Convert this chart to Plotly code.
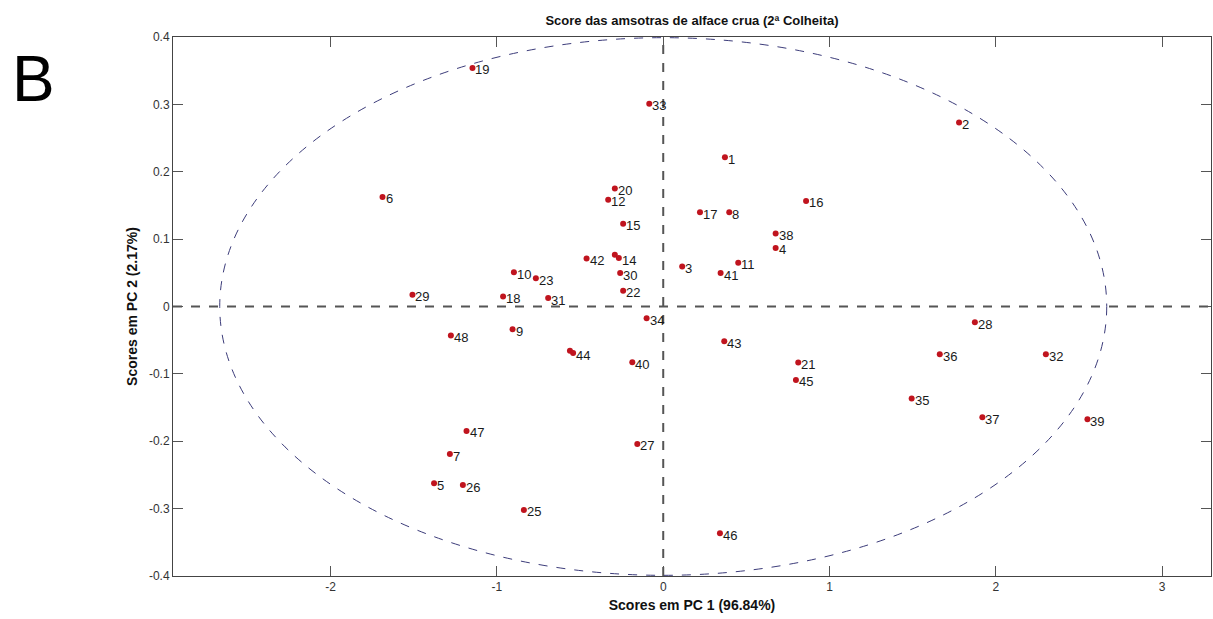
import plotly.graph_objects as go

# Sample labels and PCA scores
labels = ["1", "2", "3", "4", "5", "6", "7", "8", "9", "10",
          "11", "12", "", "14", "15", "16", "17", "18", "19", "20",
          "21", "22", "23", "", "25", "26", "27", "28", "29", "30",
          "31", "32", "33", "34", "35", "36", "37", "38", "39", "40",
          "41", "42", "43", "44", "45", "46", "47", "48"]
pc1 = [0.371, 1.779, 0.114, 0.676, -1.378, -1.688, -1.283, 0.397, -0.906, -0.898,
       0.451, -0.331, -0.291, -0.267, -0.241, 0.859, 0.221, -0.963, -1.147, -0.291,
       0.812, -0.241, -0.766, -0.561, -0.838, -1.205, -0.156, 1.874, -1.508, -0.259,
       -0.692, 2.301, -0.084, -0.100, 1.494, 1.663, 1.919, 0.676, 2.551, -0.186,
       0.345, -0.461, 0.367, -0.542, 0.798, 0.341, -1.183, -1.277]
pc2 = [0.2215, 0.273, 0.0594, 0.087, -0.2625, 0.1626, -0.219, 0.140, -0.0337, 0.051,
       0.065, 0.1585, 0.0768, 0.0719, 0.123, 0.1566, 0.140, 0.0149, 0.354, 0.175,
       -0.0832, 0.0233, 0.042, -0.0658, -0.302, -0.265, -0.204, -0.0232, 0.0174, 0.0496,
       0.0125, -0.0708, 0.301, -0.0173, -0.1367, -0.0708, -0.1644, 0.1085, -0.1674, -0.0827,
       0.0496, 0.0713, -0.0515, -0.0692, -0.109, -0.3367, -0.1847, -0.0431]

# Confidence ellipse semi-axes (Hotelling T2)
ell_a = 2.667
ell_b = 0.399

x_ticks = [-2, -1, 0, 1, 2, 3]
y_ticks = [-0.4, -0.3, -0.2, -0.1, 0, 0.1, 0.2, 0.3, 0.4]
y_ticktext = ["-0.4", "-0.3", "-0.2", "-0.1", "0", "0.1", "0.2", "0.3", "0.4"]

FONT = "Liberation Sans, Arial, sans-serif"

fig = go.Figure()
fig.add_trace(go.Scatter(
    x=pc1, y=pc2, mode="markers",
    marker=dict(color="#c0141e", size=6),
    cliponaxis=False, hoverinfo="skip", showlegend=False,
))

annotations = []
for xv, yv, lab in zip(pc1, pc2, labels):
    if lab:
        annotations.append(dict(
            x=xv, y=yv, xref="x", yref="y", text=lab, showarrow=False,
            xanchor="left", yanchor="middle", xshift=1, yshift=-2,
            font=dict(family=FONT, size=13, color="#1a1a1a")))

annotations.append(dict(text="B", xref="paper", yref="paper", x=-163 / 1038,
                        y=1 + (37 - 79) / 539, xanchor="left", yanchor="middle",
                        showarrow=False, font=dict(family=FONT, size=64, color="#000000")))

fig.add_shape(type="circle", xref="x", yref="y",
              x0=-ell_a, x1=ell_a, y0=-ell_b, y1=ell_b,
              line=dict(color="#3c3c7a", width=1, dash="dash"), layer="below")
fig.add_shape(type="line", xref="paper", yref="y", x0=0, x1=1, y0=0, y1=0,
              line=dict(color="#555555", width=2, dash="dash"), layer="below")
fig.add_shape(type="line", xref="x", yref="paper", x0=0, x1=0, y0=0, y1=1,
              line=dict(color="#555555", width=2, dash="dash"), layer="below")

axis_common = dict(
    showgrid=False, zeroline=False, showline=True, linecolor="#444444", linewidth=1,
    mirror="ticks", ticks="inside", ticklen=10, tickcolor="#555555", tickwidth=1,
    tickfont=dict(family=FONT, size=12, color="#333333"),
)

fig.update_layout(
    width=1213, height=619,
    margin=dict(l=173, r=2, t=37, b=43),
    paper_bgcolor="white", plot_bgcolor="white",
    title=dict(text="<b>Score das amsotras de alface crua (2ª Colheita)</b>",
               x=0.5, xref="paper", xanchor="center", y=1 - 20 / 619, yanchor="middle",
               font=dict(family=FONT, size=13, color="#111111")),
    xaxis=dict(range=[-2.948, 3.294], tickvals=x_ticks, ticktext=[str(v) for v in x_ticks],
               title=dict(text="<b>Scores em PC 1 (96.84%)</b>", standoff=6,
                          font=dict(family=FONT, size=14, color="#111111")),
               **axis_common),
    yaxis=dict(range=[-0.4, 0.4], tickvals=y_ticks, ticktext=y_ticktext,
               title=dict(text="<b>Scores em PC 2 (2.17%)</b>", standoff=8,
                          font=dict(family=FONT, size=14, color="#111111")),
               **axis_common),
    annotations=annotations,
)

fig.write_html("out.html")
